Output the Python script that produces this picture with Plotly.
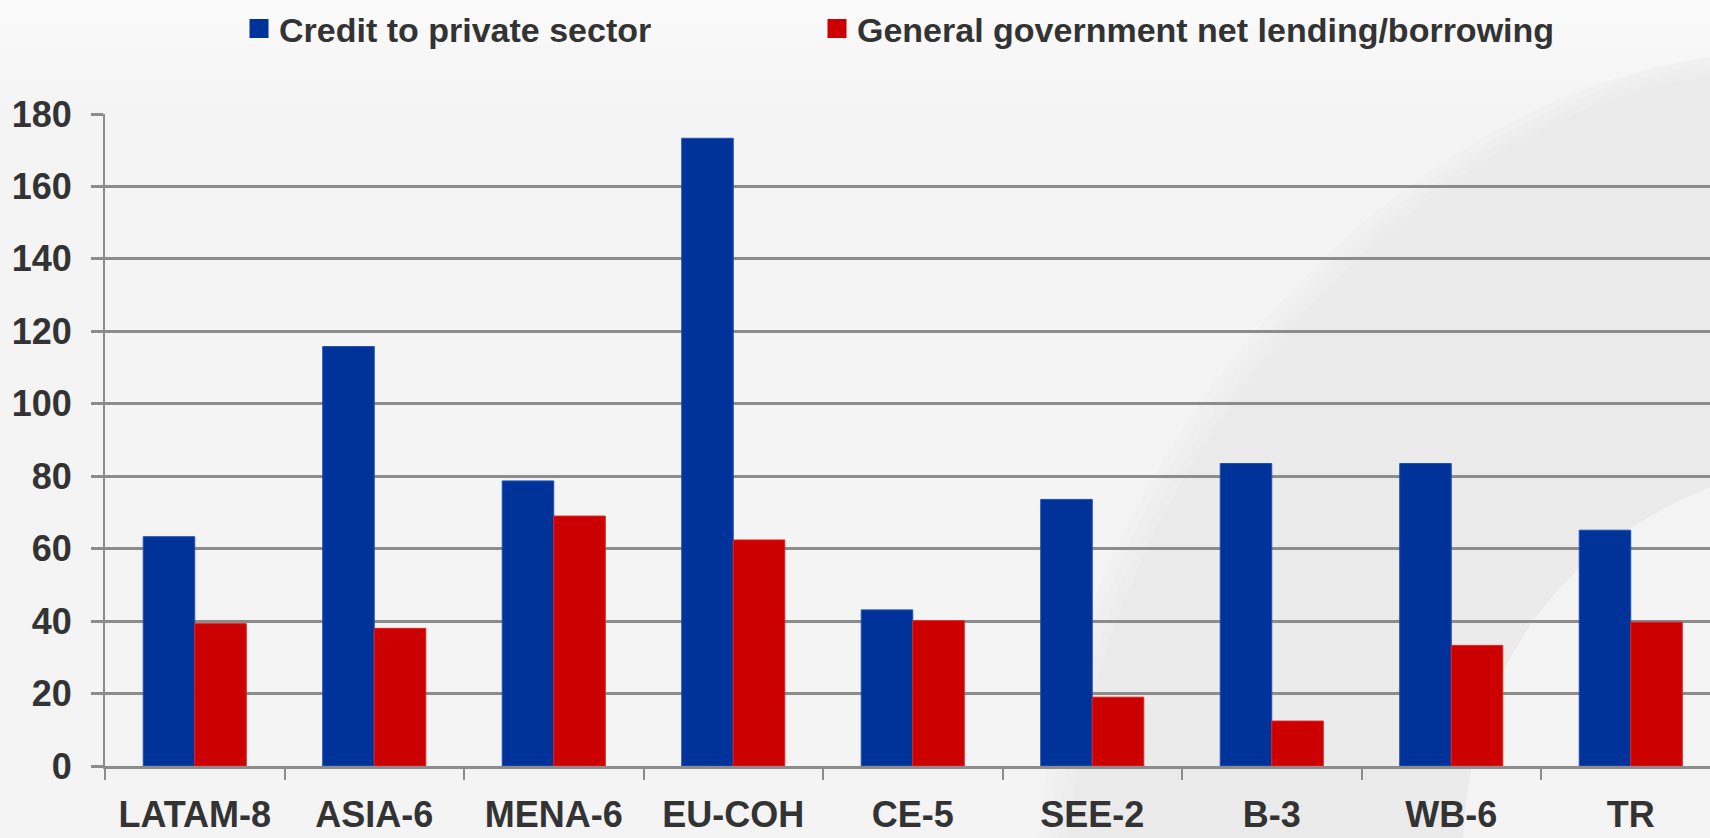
import plotly.graph_objects as go

# Regions and the two series (% of GDP)
regions = ["LATAM-8", "ASIA-6", "MENA-6", "EU-COH", "CE-5", "SEE-2", "B-3", "WB-6", "TR"]
credit_private = [63.3, 115.8, 78.7, 173.3, 43.1, 73.6, 83.5, 83.5, 65.1]
gov_net_lending = [39.3, 38.0, 69.0, 62.4, 40.1, 19.0, 12.4, 33.3, 39.7]
y_ticks = [0, 20, 40, 60, 80, 100, 120, 140, 160, 180]

BLUE, RED = "#003399", "#cc0000"

W, H = 1710, 838
L, R, T, B = 105, 0, 114, 72
PW, PH = W - L - R, H - T - B

FONT = "Liberation Sans, Arial, sans-serif"
TXT = "#333333"
GRID = "#8c8c8c"


def px(x, y):
    """pixel position in the figure -> paper coordinates of the plot area"""
    return (x - L) / PW, (H - B - y) / PH


def p(x, y):
    a, b = px(x, y)
    return f"{a:.5f},{b:.5f}"


def swoosh(dx):
    """curved band in the background; dx shifts its left (soft) edge"""
    return (f"M {p(1710, 57 + dx * 0.6)} "
            f"C {p(1350 + dx, 110 + dx * 0.5)} {p(1060 + dx, 500)} {p(1039 + dx, 838)} "
            f"L {p(1463, 838)} "
            f"C {p(1470, 700)} {p(1530, 560)} {p(1710, 487)} Z")


shapes = []
# soft white haze at the top of the page
for i in range(12):
    y0, y1 = i * 9, (i + 1) * 9
    shapes.append(dict(type="rect", xref="paper", yref="paper",
                       x0=px(0, 0)[0], x1=px(W, 0)[0], y0=px(0, y1)[1], y1=px(0, y0)[1],
                       fillcolor=f"rgba(255,255,255,{0.55 * (1 - i / 12):.3f})",
                       line_width=0, layer="below"))
for dx, col in [(0, "#f1f1f1"), (10, "#efefef"), (20, "#ededed"), (30, "#ebebeb")]:
    shapes.append(dict(type="path", xref="paper", yref="paper", path=swoosh(dx),
                       fillcolor=col, line_width=0, layer="below"))

fig = go.Figure()
fig.add_trace(go.Bar(
    name="Credit to private sector", x=regions, y=credit_private,
    marker=dict(color=BLUE, line=dict(color="#1f4fb0", width=1)),
    legendgroup="credit", showlegend=False,
))
fig.add_trace(go.Bar(
    name="General government net lending/borrowing", x=regions, y=gov_net_lending,
    marker=dict(color=RED, line=dict(color="#e02020", width=1)),
    legendgroup="gov", showlegend=False,
))
# legend keys (square swatches)
fig.add_trace(go.Scatter(
    name="Credit to private sector", x=[None], y=[None], mode="markers",
    marker=dict(symbol="square", size=16, color=BLUE, line=dict(color=BLUE, width=3)),
    legendgroup="credit", legend="legend", hoverinfo="skip",
))
fig.add_trace(go.Scatter(
    name="General government net lending/borrowing", x=[None], y=[None], mode="markers",
    marker=dict(symbol="square", size=16, color=RED, line=dict(color=RED, width=3)),
    legendgroup="gov", legend="legend2", hoverinfo="skip",
))

legend_font = dict(family=FONT, size=34, color=TXT, weight="bold")
lx1, ly = px(239, 29)
lx2, _ = px(817, 29)

fig.update_layout(
    width=W, height=H,
    margin=dict(l=L, r=R, t=T, b=B, pad=0, autoexpand=False),
    paper_bgcolor="#f4f4f4",
    plot_bgcolor="rgba(0,0,0,0)",
    showlegend=True,
    barmode="group",
    bargap=0.426,
    bargroupgap=0,
    shapes=shapes,
    legend=dict(x=lx1, y=ly, xanchor="left", yanchor="middle",
                orientation="h", font=legend_font, bgcolor="rgba(0,0,0,0)"),
    legend2=dict(x=lx2, y=ly, xanchor="left", yanchor="middle",
                 orientation="h", font=legend_font, bgcolor="rgba(0,0,0,0)"),
    xaxis=dict(
        type="category",
        range=[-0.5, -0.5 + PW / 179.5],
        automargin=False,
        showgrid=False,
        showline=True, linecolor=GRID, linewidth=3,
        ticks="outside", tickson="boundaries", ticklen=11, tickwidth=2, tickcolor=GRID,
        tickangle=0,
        tickfont=dict(family=FONT, size=36, color=TXT, weight="bold"),
        ticklabelstandoff=15,
        fixedrange=True,
    ),
    yaxis=dict(
        range=[0, 180],
        tickvals=y_ticks,
        automargin=False,
        showgrid=True, gridcolor=GRID, gridwidth=3,
        zeroline=False,
        showline=True, linecolor=GRID, linewidth=2,
        ticks="outside", ticklen=12, tickwidth=3, tickcolor=GRID,
        tickfont=dict(family=FONT, size=36, color=TXT, weight="bold"),
        ticklabelstandoff=12,
        fixedrange=True,
    ),
)

fig.write_html("out.html")
